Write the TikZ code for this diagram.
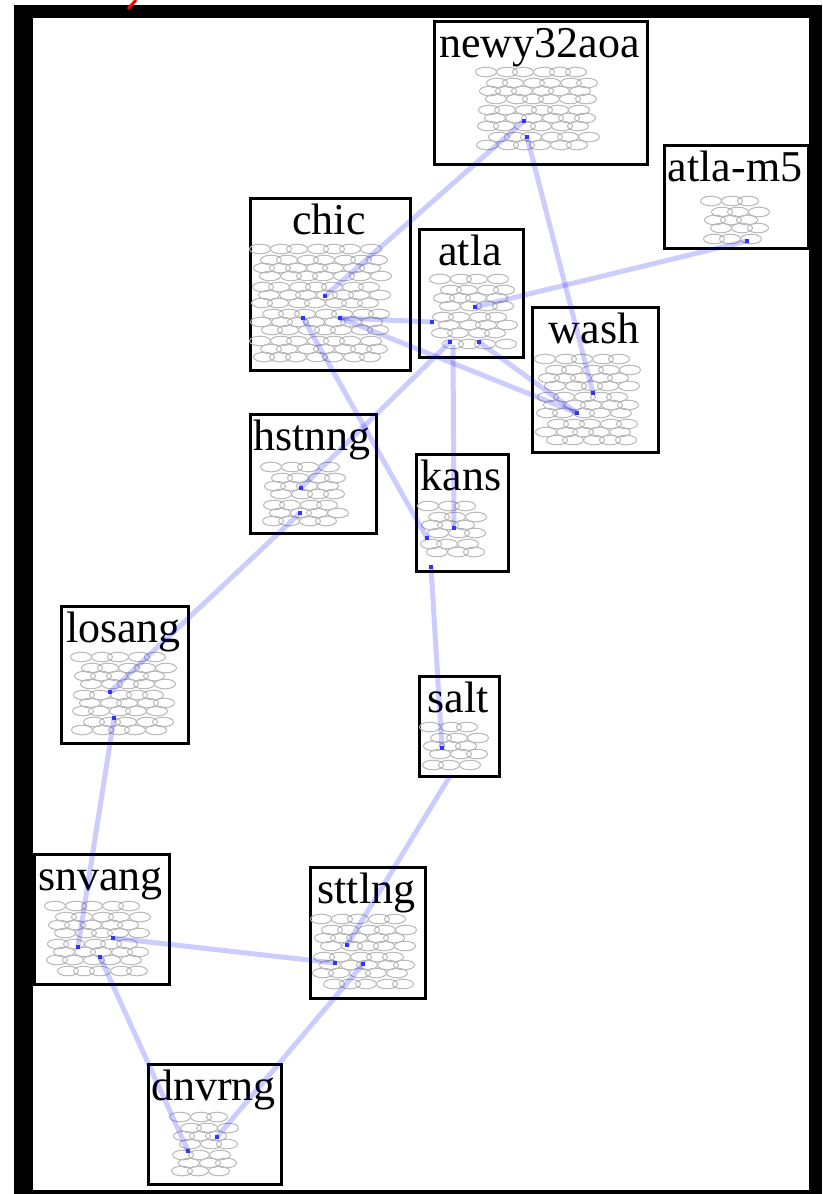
\documentclass[tikz,border=0pt]{standalone}
\usepackage{fontspec}
\setmainfont{Liberation Serif}
\begin{document}
\begin{tikzpicture}[x=1pt,y=-1pt,
  box/.style={draw=black, line width=3pt, fill=white, inner sep=0pt, anchor=north west},
  lab/.style={font=\fontsize{44}{44}\selectfont, inner sep=0pt, anchor=base},
  meshst/.style={draw=black!28, line width=1pt},
  link/.style={draw=blue, draw opacity=0.2, line width=5pt},
  dot/.style={fill=blue!80, draw=none, minimum size=3.5pt, inner sep=0pt, rectangle}]
\useasboundingbox (0,0) rectangle (822,1194);
\fill[black] (14,5) rectangle (822,1194);
\fill[white] (33,18) rectangle (809,1190);
\draw[red, line width=3pt] (128,9) -- (136,0);

\newcommand\meshfill[4]{%
  \pgfmathtruncatemacro\nr{(#4-#2-10)/9}%
  \pgfmathtruncatemacro\nc{(#3-#1-28)/18}%
  \foreach \r in {0,...,\nr}{%
    \foreach \c in {0,...,\nc}{%
      \pgfmathsetmacro\xx{#1+10+\c*18+mod(\r,2)*9+mod(\r*7+\c*13,5)-2}%
      \pgfmathsetmacro\yy{#2+5+\r*9+mod(\r*5+\c*3,3)-1}%
      \draw[meshst] (\xx,\yy) ellipse (10.5pt and 4.8pt);
    }%
  }%
}

% boxes
\node[box, minimum width=213pt, minimum height=143pt] (newy) at (433,20) {};
\node[box, minimum width=144pt, minimum height=103pt] (atlam5) at (663,144) {};
\node[box, minimum width=160pt, minimum height=172pt] (chic) at (249,197) {};
\node[box, minimum width=104pt, minimum height=128pt] (atla) at (418,228) {};
\node[box, minimum width=126pt, minimum height=145pt] (wash) at (531,306) {};
\node[box, minimum width=126pt, minimum height=119pt] (hstn) at (249,413) {};
\node[box, minimum width=92pt, minimum height=117pt] (kans) at (415,453) {};
\node[box, minimum width=80pt, minimum height=100pt] (salt) at (418,675) {};
\node[box, minimum width=127pt, minimum height=137pt] (losa) at (60,605) {};
\node[box, minimum width=135pt, minimum height=130pt] (snva) at (33,853) {};
\node[box, minimum width=115pt, minimum height=131pt] (sttl) at (309,866) {};
\node[box, minimum width=133pt, minimum height=120pt] (dnvr) at (147,1063) {};

% meshes
\meshfill{478}{68}{605}{158}
\meshfill{703}{197}{768}{243}
\meshfill{252}{245}{403}{365}
\meshfill{432}{275}{519}{353}
\meshfill{537}{355}{653}{447}
\meshfill{263}{463}{360}{528}
\meshfill{420}{502}{500}{565}
\meshfill{422}{723}{497}{773}
\meshfill{73}{653}{177}{738}
\meshfill{47}{902}{153}{978}
\meshfill{313}{915}{420}{995}
\meshfill{172}{1113}{250}{1180}

% labels
\node[lab] (newy-l) at (539.5,57) {newy32aoa};
\node[lab] (atlam5-l) at (735,181) {atla-m5};
\node[lab] (chic-l) at (329,234) {chic};
\node[lab] (atla-l) at (470,265) {atla};
\node[lab] (wash-l) at (594,343) {wash};
\node[lab] (hstn-l) at (312,450) {hstnng};
\node[lab] (kans-l) at (461,490) {kans};
\node[lab] (salt-l) at (458,712) {salt};
\node[lab] (losa-l) at (123.5,642) {losang};
\node[lab] (snva-l) at (100.5,890) {snvang};
\node[lab] (sttl-l) at (366.5,903) {sttlng};
\node[lab] (dnvr-l) at (213.5,1100) {dnvrng};

% endpoints
\coordinate (newy-a) at (524,121);
\coordinate (newy-b) at (527,137);
\coordinate (atlam5-a) at (747,241);
\coordinate (chic-a) at (325,296);
\coordinate (chic-b) at (340,318);
\coordinate (chic-c) at (303,318);
\coordinate (atla-a) at (475,307);
\coordinate (atla-b) at (432,322);
\coordinate (atla-c) at (479,342);
\coordinate (atla-d) at (450,342);
\coordinate (atla-e) at (453,345);
\coordinate (wash-a) at (593,393);
\coordinate (wash-b) at (577,413);
\coordinate (hstn-a) at (301,488);
\coordinate (hstn-b) at (300,513);
\coordinate (kans-a) at (454,528);
\coordinate (kans-b) at (427,538);
\coordinate (kans-c) at (431,567);
\coordinate (salt-a) at (442,748);
\coordinate (salt-b) at (450,776);
\coordinate (losa-a) at (110,692);
\coordinate (losa-b) at (114,718);
\coordinate (snva-a) at (78,947);
\coordinate (snva-b) at (113,938);
\coordinate (snva-c) at (100,957);
\coordinate (sttl-a) at (335,963);
\coordinate (sttl-b) at (347,945);
\coordinate (sttl-c) at (363,964);
\coordinate (dnvr-a) at (188,1151);
\coordinate (dnvr-b) at (217,1137);

% links
\draw[link] (newy-a) -- (chic-a);
\draw[link] (newy-b) -- (wash-a);
\draw[link] (atlam5-a) -- (atla-a);
\draw[link] (chic-b) -- (atla-b);
\draw[link] (chic-b) -- (wash-b);
\draw[link] (chic-c) -- (kans-b);
\draw[link] (atla-c) -- (wash-b);
\draw[link] (atla-d) -- (hstn-a);
\draw[link] (atla-e) -- (kans-a);
\draw[link] (hstn-b) -- (losa-a);
\draw[link] (kans-c) -- (salt-a);
\draw[link] (losa-b) -- (snva-a);
\draw[link] (snva-b) -- (sttl-a);
\draw[link] (salt-b) -- (sttl-b);
\draw[link] (snva-c) -- (dnvr-a);
\draw[link] (sttl-c) -- (dnvr-b);

\foreach \p in {newy-a,newy-b,atlam5-a,chic-a,chic-b,chic-c,atla-a,atla-b,atla-c,atla-d,wash-a,wash-b,hstn-a,hstn-b,kans-a,kans-b,kans-c,salt-a,losa-a,losa-b,snva-a,snva-b,snva-c,sttl-a,sttl-b,sttl-c,dnvr-a,dnvr-b}
  \node[dot] at (\p) {};
\end{tikzpicture}
\end{document}
